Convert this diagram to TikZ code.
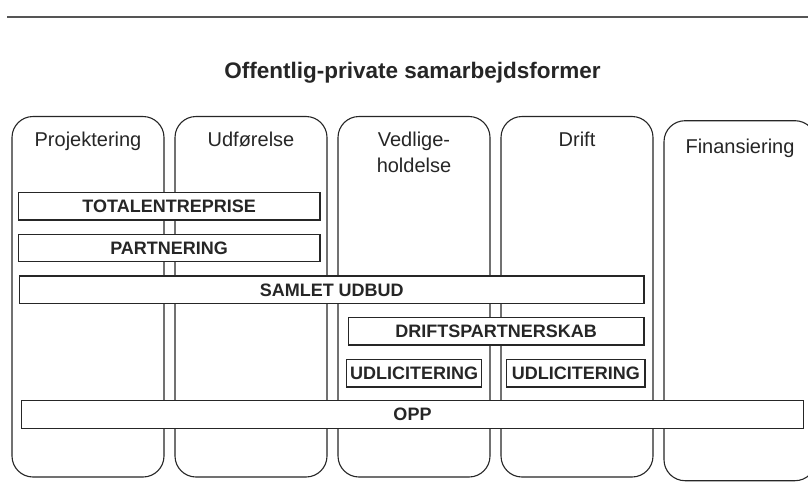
\documentclass[tikz,border=0pt]{standalone}
\usepackage{fontspec}
\setmainfont{Liberation Sans}
\definecolor{ink}{HTML}{262626}
\definecolor{rule}{HTML}{555555}
\begin{document}
\begin{tikzpicture}[x=1pt,y=-1pt,
  colbox/.style={draw=ink, line width=1.1pt, rounded corners=21pt, fill=white,
    minimum width=152pt, inner sep=0pt},
  collabel/.style={font=\fontsize{20}{26}\selectfont, text=ink, anchor=base, align=center, inner sep=0pt},
  bar/.style={draw=ink, line width=1.2pt, fill=white, inner sep=0pt,
    font=\fontsize{18}{20}\selectfont\bfseries, text=ink, minimum height=27.5pt},
  heading/.style={font=\fontsize{22.5}{26}\selectfont\bfseries, text=ink, anchor=base, inner sep=0pt}]
\useasboundingbox (0,0) rectangle (808,498);

% top rule and heading
\draw[rule, line width=2pt] (7,16.5) -- (808,16.5);
\node[heading] (title) at (412.5,78.5) {Offentlig-private samarbejdsformer};

% phase columns
\node[colbox, minimum height=360.5pt] (c1) at (88,296.75) {};
\node[colbox, minimum height=360.5pt] (c2) at (251,296.75) {};
\node[colbox, minimum height=360.5pt] (c3) at (414,296.75) {};
\node[colbox, minimum height=360.5pt] (c4) at (577,296.75) {};
\node[colbox, minimum height=360pt] (c5) at (740,300.7) {};

\node[collabel] (l1) at (88,146.7) {Projektering};
\node[collabel] (l2) at (251,146.7) {Udførelse};
\node[collabel] (l3) at (414,146.7) {Vedlige-};
\node[collabel] (l3b) at (414,172.7) {holdelse};
\node[collabel] (l4) at (577,146.7) {Drift};
\node[collabel] (l5) at (740,153) {Finansiering};

% contract forms spanning the phases
\node[bar, minimum width=301.7pt] (tot) at (169.15,206.2) {TOTALENTREPRISE};
\node[bar, minimum width=301.7pt] (par) at (169.15,247.9) {PARTNERING};
\node[bar, minimum width=624.5pt] (sam) at (331.75,289.8) {SAMLET UDBUD};
\node[bar, minimum width=295.7pt] (dri) at (496.15,331.3) {DRIFTSPARTNERSKAB};
\node[bar, minimum width=135pt] (ud1) at (414.2,373.2) {UDLICITERING};
\node[bar, minimum width=138.3pt] (ud2) at (575.85,373.2) {UDLICITERING};
\node[bar, minimum width=781.6pt] (opp) at (412.5,414.5) {OPP};
\end{tikzpicture}
\end{document}
